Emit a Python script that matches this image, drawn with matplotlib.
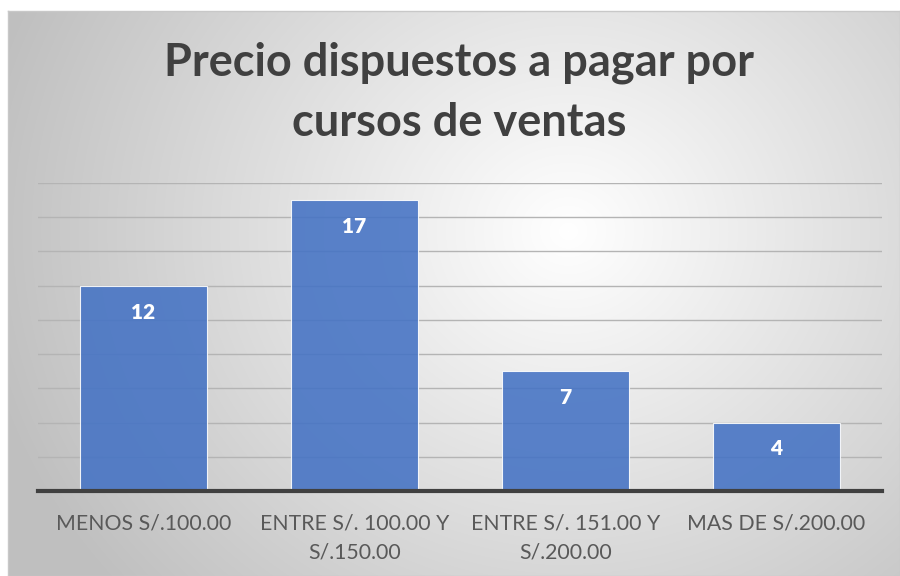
import numpy as np
import matplotlib
matplotlib.use("Agg")
import matplotlib.pyplot as plt

categories = ["MENOS S/.100.00", "ENTRE S/. 100.00 Y\nS/.150.00",
              "ENTRE S/. 151.00 Y\nS/.200.00", "MAS DE S/.200.00"]
values = [12, 17, 7, 4]
title = "Precio dispuestos a pagar por\ncursos de ventas"

plt.rcParams["font.family"] = ["Lato", "DejaVu Sans"]

fig = plt.figure(figsize=(9, 5.76), dpi=100)
fig.patch.set_facecolor("white")

# background panel with radial gradient
bg = fig.add_axes([8 / 900, 0, 892 / 900, 565 / 576])
h, w = 565, 892
yy, xx = np.mgrid[0:h, 0:w]
cx, cy = 560, 220
d = np.sqrt((xx - cx) ** 2 + ((yy - cy) * 1.1) ** 2)
d = np.clip(d / 600, 0, 1)
shade = 1.0 - 0.25 * d
img = np.dstack([shade, shade, shade])
bg.imshow(img, aspect="auto", extent=[0, 1, 0, 1], origin="upper")
bg.set_xticks([])
bg.set_yticks([])
for s in bg.spines.values():
    s.set_color("#c8c8c8")
    s.set_linewidth(1)

ax = fig.add_axes([38 / 900, (576 - 491) / 576, 844 / 900, 308 / 576])
ax.patch.set_alpha(0)
x = np.arange(len(values))
bars = ax.bar(x, values, width=0.6, color="#4472C4", alpha=0.88,
              edgecolor="white", linewidth=0.8, zorder=2)
ax.set_xlim(-0.5, len(values) - 0.5)
ax.set_ylim(0, 18)
ax.set_yticks(np.arange(0, 19, 2))
ax.yaxis.grid(True, color="#b4b4b4", linewidth=1, zorder=1)
ax.set_axisbelow(True)
ax.tick_params(axis="y", left=False, labelleft=False)
ax.tick_params(axis="x", length=0, pad=16)
ax.set_xticks(x)
ax.set_xticklabels(categories, fontsize=15.3, color="#595959", linespacing=1.6)
for s in ["top", "right", "left"]:
    ax.spines[s].set_visible(False)
ax.spines["bottom"].set_color("#404040")
ax.spines["bottom"].set_linewidth(3)
ax.spines["bottom"].set_zorder(3)

for b, v in zip(bars, values):
    ax.annotate(str(v), (b.get_x() + b.get_width() / 2, v),
                xytext=(0, -19), textcoords="offset points",
                ha="center", va="center", color="white",
                fontsize=15, fontweight="heavy", zorder=4)

fig.text(0.51, 1 - 93 / 576, title, ha="center", va="center",
         fontsize=32.5, fontweight="bold", color="#404040", linespacing=1.52)

fig.savefig("out.png", dpi=100)
